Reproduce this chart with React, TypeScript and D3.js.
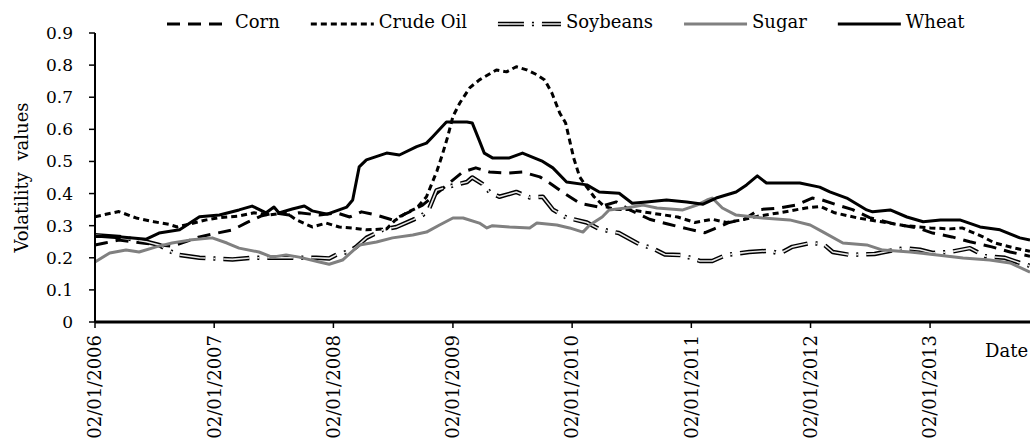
import React, { useEffect, useRef } from "react";
import * as d3 from "d3";

// values: [date, volatility]
const cornData: [string, number][] = [
  ["2006-01-02", 0.24], ["2006-02-01", 0.246], ["2006-03-16", 0.255], ["2006-06-02", 0.245],
  ["2006-08-26", 0.236], ["2006-11-18", 0.265], ["2007-01-03", 0.275], ["2007-02-27", 0.287],
  ["2007-04-13", 0.31], ["2007-05-25", 0.33], ["2007-07-04", 0.34], ["2007-08-19", 0.333],
  ["2007-09-19", 0.34], ["2007-11-20", 0.333], ["2008-01-12", 0.34], ["2008-02-21", 0.327],
  ["2008-03-28", 0.343], ["2008-05-13", 0.333], ["2008-07-01", 0.318], ["2008-08-22", 0.343],
  ["2008-10-01", 0.364], ["2008-11-13", 0.4], ["2008-12-22", 0.433], ["2009-02-01", 0.467],
  ["2009-03-13", 0.48], ["2009-04-24", 0.467], ["2009-06-18", 0.464], ["2009-08-03", 0.467],
  ["2009-09-25", 0.452], ["2009-10-25", 0.433], ["2009-12-10", 0.4], ["2010-01-25", 0.37],
  ["2010-03-25", 0.358], ["2010-05-17", 0.374], ["2010-06-26", 0.35], ["2010-08-27", 0.32],
  ["2010-10-22", 0.305], ["2010-12-22", 0.29], ["2011-02-13", 0.278], ["2011-03-13", 0.29],
  ["2011-04-28", 0.31], ["2011-06-13", 0.32], ["2011-07-28", 0.35], ["2011-09-28", 0.355],
  ["2011-11-22", 0.365], ["2012-01-07", 0.386], ["2012-02-07", 0.38], ["2012-03-25", 0.364],
  ["2012-05-10", 0.35], ["2012-07-01", 0.325], ["2012-09-16", 0.305], ["2012-11-25", 0.293],
  ["2013-01-10", 0.277], ["2013-03-10", 0.265], ["2013-05-04", 0.25], ["2013-07-10", 0.234],
  ["2013-09-04", 0.218], ["2013-11-04", 0.205],
];

const crudeOilData: [string, number][] = [
  ["2006-01-02", 0.328], ["2006-03-16", 0.344], ["2006-05-08", 0.324], ["2006-07-02", 0.312],
  ["2006-08-17", 0.304], ["2006-09-11", 0.296], ["2006-10-18", 0.305], ["2006-12-09", 0.318],
  ["2007-01-18", 0.325], ["2007-03-19", 0.33], ["2007-05-04", 0.34], ["2007-06-19", 0.333],
  ["2007-08-10", 0.34], ["2007-09-11", 0.318], ["2007-10-29", 0.296], ["2007-12-11", 0.308],
  ["2008-01-20", 0.296], ["2008-02-28", 0.293], ["2008-04-12", 0.287], ["2008-06-13", 0.29],
  ["2008-07-07", 0.315], ["2008-08-13", 0.34], ["2008-09-13", 0.355], ["2008-10-13", 0.39],
  ["2008-11-14", 0.47], ["2008-12-02", 0.526], ["2008-12-17", 0.577], ["2009-01-02", 0.64],
  ["2009-01-23", 0.682], ["2009-02-23", 0.73], ["2009-03-24", 0.754], ["2009-05-15", 0.785],
  ["2009-06-15", 0.779], ["2009-07-15", 0.795], ["2009-08-16", 0.785], ["2009-09-16", 0.77],
  ["2009-10-10", 0.754], ["2009-11-01", 0.713], ["2009-11-25", 0.651], ["2009-12-13", 0.62],
  ["2009-12-25", 0.567], ["2010-01-07", 0.51], ["2010-01-25", 0.452], ["2010-02-16", 0.42],
  ["2010-03-10", 0.39], ["2010-04-10", 0.36], ["2010-05-17", 0.35], ["2010-06-26", 0.35],
  ["2010-08-27", 0.34], ["2010-11-21", 0.327], ["2011-01-13", 0.31], ["2011-03-07", 0.32],
  ["2011-04-19", 0.31], ["2011-06-07", 0.318], ["2011-07-28", 0.33], ["2011-09-28", 0.34],
  ["2011-12-19", 0.355], ["2012-02-01", 0.36], ["2012-03-16", 0.34], ["2012-05-25", 0.324],
  ["2012-08-19", 0.31], ["2012-10-16", 0.3], ["2013-01-03", 0.293], ["2013-03-03", 0.29],
  ["2013-04-10", 0.293], ["2013-06-13", 0.265], ["2013-07-19", 0.246], ["2013-09-19", 0.23],
  ["2013-11-04", 0.22],
];

const soybeansData: [string, number][] = [
  ["2006-01-02", 0.27], ["2006-03-16", 0.265], ["2006-06-08", 0.25], ["2006-07-17", 0.24],
  ["2006-09-08", 0.21], ["2006-11-18", 0.2], ["2007-02-27", 0.195], ["2007-04-28", 0.2],
  ["2007-08-28", 0.2], ["2007-11-11", 0.2], ["2007-12-20", 0.198], ["2008-01-12", 0.21],
  ["2008-02-21", 0.22], ["2008-03-13", 0.235], ["2008-04-12", 0.262], ["2008-06-01", 0.287],
  ["2008-07-13", 0.296], ["2008-09-01", 0.318], ["2008-10-01", 0.333], ["2008-10-22", 0.355],
  ["2008-11-13", 0.41], ["2008-12-13", 0.42], ["2009-02-14", 0.436], ["2009-03-02", 0.45],
  ["2009-04-02", 0.43], ["2009-04-24", 0.405], ["2009-05-24", 0.39], ["2009-07-15", 0.405],
  ["2009-08-25", 0.388], ["2009-10-04", 0.39], ["2009-11-04", 0.35], ["2009-12-16", 0.325],
  ["2010-02-16", 0.31], ["2010-03-25", 0.29], ["2010-05-25", 0.277], ["2010-07-25", 0.243],
  ["2010-09-04", 0.23], ["2010-10-13", 0.21], ["2010-12-07", 0.208], ["2011-01-28", 0.19],
  ["2011-03-07", 0.19], ["2011-04-19", 0.209], ["2011-06-28", 0.218], ["2011-08-29", 0.222],
  ["2011-09-29", 0.213], ["2011-11-07", 0.234], ["2012-01-01", 0.246], ["2012-02-10", 0.243],
  ["2012-03-10", 0.218], ["2012-05-01", 0.209], ["2012-07-16", 0.212], ["2012-10-16", 0.23],
  ["2012-12-02", 0.225], ["2013-01-10", 0.215], ["2013-03-03", 0.218], ["2013-05-04", 0.23],
  ["2013-06-19", 0.205], ["2013-08-19", 0.2], ["2013-10-04", 0.184], ["2013-11-04", 0.175],
];

const sugarData: [string, number][] = [
  ["2006-01-02", 0.187], ["2006-02-16", 0.215], ["2006-04-07", 0.224], ["2006-05-17", 0.218],
  ["2006-07-08", 0.234], ["2006-08-26", 0.246], ["2006-10-18", 0.255], ["2006-12-27", 0.262],
  ["2007-02-10", 0.246], ["2007-03-19", 0.23], ["2007-05-19", 0.218], ["2007-06-28", 0.202],
  ["2007-08-10", 0.209], ["2007-09-19", 0.202], ["2007-11-20", 0.187], ["2007-12-20", 0.18],
  ["2008-01-30", 0.193], ["2008-03-22", 0.24], ["2008-05-13", 0.249], ["2008-07-01", 0.262],
  ["2008-09-01", 0.271], ["2008-10-13", 0.28], ["2008-11-22", 0.302], ["2009-01-02", 0.324],
  ["2009-02-02", 0.324], ["2009-03-24", 0.308], ["2009-04-16", 0.293], ["2009-05-03", 0.3],
  ["2009-06-24", 0.296], ["2009-08-25", 0.293], ["2009-09-16", 0.308], ["2009-11-16", 0.302],
  ["2009-12-25", 0.293], ["2010-02-04", 0.28], ["2010-02-25", 0.302], ["2010-04-04", 0.327],
  ["2010-04-25", 0.349], ["2010-06-16", 0.355], ["2010-08-07", 0.364], ["2010-09-19", 0.355],
  ["2010-12-07", 0.349], ["2011-01-19", 0.364], ["2011-02-19", 0.38], ["2011-03-07", 0.386],
  ["2011-04-07", 0.355], ["2011-05-19", 0.333], ["2011-08-08", 0.324], ["2011-10-30", 0.318],
  ["2012-01-01", 0.302], ["2012-02-10", 0.28], ["2012-04-10", 0.246], ["2012-06-22", 0.24],
  ["2012-08-10", 0.224], ["2012-11-02", 0.218], ["2013-01-24", 0.209], ["2013-04-13", 0.199],
  ["2013-07-04", 0.193], ["2013-09-04", 0.184], ["2013-11-04", 0.155],
];

const wheatData: [string, number][] = [
  ["2006-01-02", 0.266], ["2006-03-07", 0.266], ["2006-06-08", 0.258], ["2006-07-17", 0.277],
  ["2006-09-18", 0.287], ["2006-11-18", 0.328], ["2007-01-18", 0.333], ["2007-03-19", 0.349],
  ["2007-04-28", 0.361], ["2007-06-10", 0.34], ["2007-07-04", 0.358], ["2007-07-19", 0.34],
  ["2007-08-29", 0.352], ["2007-10-05", 0.361], ["2007-10-29", 0.346], ["2007-12-14", 0.336],
  ["2008-02-12", 0.358], ["2008-03-01", 0.38], ["2008-03-21", 0.483], ["2008-04-12", 0.505],
  ["2008-06-13", 0.526], ["2008-07-22", 0.52], ["2008-09-13", 0.546], ["2008-10-13", 0.557],
  ["2008-11-01", 0.577], ["2008-12-13", 0.623], ["2009-02-14", 0.623], ["2009-03-02", 0.62],
  ["2009-03-23", 0.567], ["2009-04-08", 0.526], ["2009-05-03", 0.511], ["2009-06-24", 0.511],
  ["2009-08-03", 0.526], ["2009-10-04", 0.5], ["2009-11-04", 0.48], ["2009-12-16", 0.436],
  ["2010-02-16", 0.427], ["2010-03-26", 0.405], ["2010-05-26", 0.401], ["2010-07-05", 0.37],
  ["2010-08-18", 0.374], ["2010-10-18", 0.38], ["2010-12-19", 0.374], ["2011-02-07", 0.367],
  ["2011-03-19", 0.386], ["2011-05-19", 0.405], ["2011-06-20", 0.427], ["2011-07-23", 0.455],
  ["2011-08-20", 0.433], ["2011-10-08", 0.433], ["2011-11-30", 0.433], ["2012-01-30", 0.42],
  ["2012-03-01", 0.405], ["2012-04-22", 0.386], ["2012-06-22", 0.349], ["2012-07-10", 0.343],
  ["2012-09-02", 0.349], ["2012-10-23", 0.327], ["2012-12-12", 0.312], ["2013-02-03", 0.318],
  ["2013-04-03", 0.318], ["2013-06-04", 0.296], ["2013-08-04", 0.287], ["2013-10-04", 0.262],
  ["2013-11-04", 0.255],
];

const seriesNames = ["Corn", "Crude Oil", "Soybeans", "Sugar", "Wheat"];
const yTicks = [0, 0.1, 0.2, 0.3, 0.4, 0.5, 0.6, 0.7, 0.8, 0.9];
const xTickDates = ["2006-01-02", "2007-01-02", "2008-01-02", "2009-01-02", "2010-01-02", "2011-01-02", "2012-01-02", "2013-01-02"];
const dateDomain = ["2006-01-02", "2013-11-04"];

export default function App() {
  const ref = useRef<SVGSVGElement>(null);

  useEffect(() => {
    const width = 1030, height = 439,
      margin = { top: 33, right: 0, bottom: 117, left: 95 },
      font = "'DejaVu Serif', serif",
      parse = d3.timeParse("%Y-%m-%d"),
      x = d3.scaleTime()
        .domain(dateDomain.map(d => parse(d) as Date))
        .range([margin.left, width - margin.right]),
      y = d3.scaleLinear()
        .domain([0, 0.9])
        .range([height - margin.bottom, margin.top]),
      line = d3.line<[string, number]>()
        .x(d => x(parse(d[0]) as Date))
        .y(d => y(d[1]))

    // style of every series (solid / dash patterns like the Excel original)
    const styles = [
      { data: cornData, stroke: "#000", width: 3, dash: "13 8", hollow: false },
      { data: crudeOilData, stroke: "#000", width: 3, dash: "6 4", hollow: false },
      { data: soybeansData, stroke: "#000", width: 4.5, dash: "26 8 2 8", hollow: true },
      { data: sugarData, stroke: "#808080", width: 3, dash: null, hollow: false },
      { data: wheatData, stroke: "#000", width: 3, dash: null, hollow: false },
    ];

    const svg = d3.select(ref.current);
    svg.selectAll("*").remove();
    svg.attr("font-family", font);

    const drawStroke = (g: any, s: any, d: string) => {
      g.append("path")
        .attr("d", d)
        .attr("fill", "none")
        .attr("stroke", s.stroke)
        .attr("stroke-width", s.width)
        .attr("stroke-dasharray", s.dash)
        .attr("stroke-linejoin", "round");
      if (s.hollow) {
        g.append("path")
          .attr("d", d)
          .attr("fill", "none")
          .attr("stroke", "#e8e8e8")
          .attr("stroke-width", 1.6)
          .attr("stroke-dasharray", s.dash)
          .attr("stroke-linejoin", "round");
      }
    };

    // series
    const lines = svg.append("g");
    styles.forEach(s => drawStroke(lines.append("g"), s, line(s.data) as string));

    // y axis
    const yAxis = svg.append("g");
    yAxis.append("line")
      .attr("x1", margin.left).attr("x2", margin.left)
      .attr("y1", y(0.9)).attr("y2", y(0))
      .attr("stroke", "#000").attr("stroke-width", 2);
    yAxis.selectAll("line.tick")
      .data(yTicks)
      .enter().append("line")
      .attr("class", "tick")
      .attr("x1", margin.left - 6).attr("x2", margin.left)
      .attr("y1", d => y(d)).attr("y2", d => y(d))
      .attr("stroke", "#000").attr("stroke-width", 1.5);
    yAxis.selectAll("text")
      .data(yTicks)
      .enter().append("text")
      .attr("x", margin.left - 22)
      .attr("y", d => y(d))
      .attr("dy", "0.35em")
      .attr("text-anchor", "end")
      .attr("font-size", 17)
      .text(d => d3.format("")(+d.toFixed(1)));

    // x axis
    const xAxis = svg.append("g");
    xAxis.append("line")
      .attr("x1", margin.left).attr("x2", width - margin.right)
      .attr("y1", y(0)).attr("y2", y(0))
      .attr("stroke", "#000").attr("stroke-width", 3);
    const fmt = d3.timeFormat("%d/%m/%Y");
    xAxis.selectAll("line.tick")
      .data(xTickDates)
      .enter().append("line")
      .attr("class", "tick")
      .attr("x1", d => x(parse(d) as Date)).attr("x2", d => x(parse(d) as Date))
      .attr("y1", y(0)).attr("y2", y(0) + 6)
      .attr("stroke", "#000").attr("stroke-width", 1.5);
    xAxis.selectAll("text")
      .data(xTickDates)
      .enter().append("text")
      .attr("transform", d => `translate(${x(parse(d) as Date)},${y(0) + 13}) rotate(-90)`)
      .attr("dy", "0.35em")
      .attr("text-anchor", "end")
      .attr("font-size", 18)
      .text(d => fmt(parse(d) as Date));

    // axis titles
    svg.append("text")
      .attr("transform", `translate(28,${(y(0.9) + y(0)) / 2}) rotate(-90)`)
      .attr("text-anchor", "middle")
      .attr("font-size", 18)
      .style("white-space", "pre")
      .text("Volatility  values");
    svg.append("text")
      .attr("x", 985)
      .attr("y", y(0) + 35)
      .attr("font-size", 18)
      .text("Date");

    // legend
    const legend = svg.append("g").attr("transform", "translate(167,24)");
    let cx = 0;
    seriesNames.forEach((name, i) => {
      const item = legend.append("g").attr("transform", `translate(${cx},0)`);
      drawStroke(item, styles[i], "M0,0H63");
      const t = item.append("text")
        .attr("x", 68)
        .attr("y", 4)
        .attr("font-size", 18)
        .text(name);
      const w = (t.node() as SVGTextElement).getComputedTextLength();
      cx += 68 + w + 31;
    });
  }, []);

  return (
    <svg ref={ref} width={1030} height={439}
      style={{ position: "absolute", left: 0, top: 0, background: "#fff" }} />
  );
}
